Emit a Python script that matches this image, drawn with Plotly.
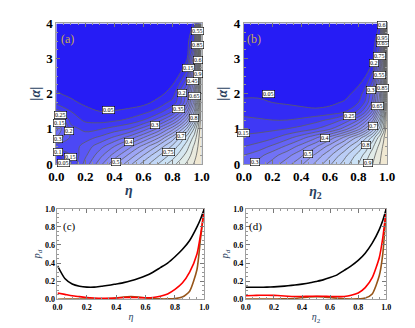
import plotly.graph_objects as go

# grid
eta_grid = [0, 0.1, 0.2, 0.3, 0.4, 0.5, 0.6, 0.7, 0.8, 0.85, 0.9, 0.95, 0.975, 1.0]
alpha_grid = [0, 0.25, 0.5, 0.75, 1.0, 1.25, 1.5, 1.75, 2.0, 2.5, 3.0, 3.5, 4.0]

z_a = [
    [0.04, 0.15, 0.27, 0.38, 0.49, 0.58, 0.67, 0.75, 0.83, 0.87, 0.91, 0.955, 0.978, 1.0],
    [0.08, 0.15, 0.24, 0.33, 0.42, 0.51, 0.6, 0.69, 0.77, 0.82, 0.87, 0.93, 0.965, 1.0],
    [0.17, 0.17, 0.22, 0.28, 0.35, 0.43, 0.52, 0.61, 0.71, 0.77, 0.83, 0.91, 0.95, 1.0],
    [0.3, 0.19, 0.18, 0.21, 0.26, 0.32, 0.4, 0.49, 0.62, 0.7, 0.78, 0.87, 0.93, 1.0],
    [0.37, 0.17, 0.135, 0.145, 0.17, 0.2, 0.27, 0.36, 0.48, 0.56, 0.66, 0.81, 0.9, 1.0],
    [0.28, 0.13, 0.09, 0.08, 0.09, 0.11, 0.15, 0.22, 0.33, 0.41, 0.52, 0.7, 0.84, 1.0],
    [0.17, 0.1, 0.065, 0.05, 0.052, 0.06, 0.08, 0.12, 0.2, 0.28, 0.4, 0.6, 0.78, 1.0],
    [0.085, 0.06, 0.04, 0.03, 0.028, 0.03, 0.035, 0.065, 0.12, 0.18, 0.3, 0.52, 0.72, 1.0],
    [0.055, 0.04, 0.025, 0.018, 0.015, 0.02, 0.025, 0.035, 0.07, 0.17, 0.27, 0.5, 0.7, 1.0],
    [0.03, 0.02, 0.012, 0.008, 0.008, 0.012, 0.012, 0.015, 0.03, 0.055, 0.14, 0.4, 0.65, 1.0],
    [0.015, 0.008, 0.005, 0.004, 0.01, 0.02, 0.012, 0.008, 0.01, 0.02, 0.045, 0.3, 0.6, 1.0],
    [0.01, 0.005, 0.003, 0.003, 0.008, 0.015, 0.01, 0.006, 0.006, 0.01, 0.02, 0.15, 0.5, 1.0],
    [0.008, 0.004, 0.002, 0.002, 0.005, 0.01, 0.008, 0.004, 0.004, 0.006, 0.01, 0.06, 0.4, 1.0],
]

z_b = [
    [0.28, 0.32, 0.37, 0.43, 0.49, 0.56, 0.64, 0.72, 0.8, 0.85, 0.9, 0.95, 0.975, 1.0],
    [0.25, 0.28, 0.33, 0.38, 0.44, 0.51, 0.59, 0.68, 0.77, 0.82, 0.88, 0.94, 0.97, 1.0],
    [0.2, 0.22, 0.26, 0.31, 0.37, 0.44, 0.52, 0.61, 0.71, 0.77, 0.84, 0.92, 0.96, 1.0],
    [0.16, 0.17, 0.19, 0.23, 0.28, 0.34, 0.42, 0.51, 0.62, 0.69, 0.77, 0.88, 0.94, 1.0],
    [0.133, 0.133, 0.138, 0.15, 0.168, 0.197, 0.24, 0.32, 0.43, 0.51, 0.62, 0.77, 0.87, 1.0],
    [0.11, 0.105, 0.1, 0.1, 0.11, 0.13, 0.16, 0.21, 0.3, 0.38, 0.49, 0.68, 0.82, 1.0],
    [0.085, 0.08, 0.075, 0.068, 0.062, 0.058, 0.065, 0.09, 0.16, 0.24, 0.36, 0.57, 0.75, 1.0],
    [0.06, 0.055, 0.05, 0.045, 0.04, 0.036, 0.04, 0.055, 0.1, 0.16, 0.27, 0.49, 0.7, 1.0],
    [0.04, 0.045, 0.044, 0.035, 0.032, 0.035, 0.032, 0.032, 0.07, 0.13, 0.24, 0.46, 0.68, 1.0],
    [0.02, 0.02, 0.02, 0.018, 0.02, 0.025, 0.02, 0.015, 0.025, 0.05, 0.12, 0.37, 0.6, 1.0],
    [0.005, 0.005, 0.005, 0.005, 0.018, 0.03, 0.02, 0.006, 0.005, 0.015, 0.035, 0.25, 0.5, 1.0],
    [0.003, 0.003, 0.003, 0.003, 0.01, 0.018, 0.012, 0.004, 0.003, 0.006, 0.015, 0.12, 0.42, 1.0],
    [0.002, 0.002, 0.002, 0.002, 0.006, 0.01, 0.008, 0.003, 0.002, 0.003, 0.008, 0.05, 0.35, 1.0],
]

# contour labels (text, eta, alpha)
lab_a_text = ["0.05", "0.25", "0.15", "0.2", "0.3", "0.1", "0.15", "0.05", "0.5", "0.4", "0.3",
              "0.35", "0.7", "0.75", "0.8", "0.65", "0.2", "0.45", "0.15", "0.9", "0.6", "0.85", "0.55", "0.55"]
lab_a_eta = [0.36, 0.03, 0.02, 0.09, 0.01, 0.01, 0.1, 0.05, 0.41, 0.5, 0.68,
             0.84, 0.86, 0.77, 0.95, 0.95, 0.865, 0.94, 0.91, 0.975, 0.975, 0.975, 0.975, 0.98]
lab_a_alpha = [1.55, 1.39, 1.17, 0.95, 0.71, 0.35, 0.19, 0.03, 0.06, 0.62, 1.12,
               1.56, 0.8, 0.33, 1.3, 1.93, 2.02, 2.36, 2.72, 2.57, 2.97, 3.38, 3.79, 4.02]

lab_b_text = ["0.05", "0.15", "0.3", "0.4", "0.5", "0.25", "0.7", "0.8", "0.9", "0.65",
              "0.3", "0.85", "0.55", "0.2", "0.75", "0.65", "0.95", "0.6"]
lab_b_eta = [0.17, 0.0, 0.08, 0.57, 0.45, 0.74, 0.9, 0.85, 0.87, 0.93,
             0.89, 0.965, 0.95, 0.91, 0.95, 0.965, 0.965, 0.965]
lab_b_alpha = [2.0, 0.87, 0.05, 0.73, 0.28, 1.36, 1.09, 0.53, 0.03, 1.66,
               2.11, 2.16, 2.54, 2.87, 3.07, 3.45, 3.59, 3.95]

# line cuts
eta_line = [0, 0.05, 0.1, 0.15, 0.2, 0.25, 0.3, 0.35, 0.4, 0.45, 0.5, 0.55, 0.6, 0.65,
            0.7, 0.75, 0.8, 0.85, 0.9, 0.95, 0.975, 1.0]
c_black = [0.37, 0.23, 0.17, 0.145, 0.135, 0.135, 0.145, 0.155, 0.17, 0.185, 0.205, 0.23,
           0.26, 0.3, 0.35, 0.4, 0.47, 0.55, 0.65, 0.8, 0.89, 1.0]
c_red = [0.07, 0.055, 0.04, 0.03, 0.02, 0.015, 0.012, 0.012, 0.015, 0.02, 0.022, 0.02,
         0.018, 0.02, 0.035, 0.06, 0.11, 0.18, 0.3, 0.5, 0.72, 1.0]
c_brown = [0.002, 0.003, 0.003, 0.003, 0.003, 0.003, 0.004, 0.008, 0.015, 0.025, 0.03, 0.025,
           0.015, 0.008, 0.005, 0.005, 0.008, 0.025, 0.09, 0.33, 0.68, 1.0]
d_black = [0.133, 0.133, 0.133, 0.135, 0.138, 0.143, 0.15, 0.158, 0.168, 0.18, 0.197, 0.215,
           0.24, 0.27, 0.32, 0.37, 0.43, 0.51, 0.62, 0.77, 0.87, 1.0]
d_red = [0.04, 0.043, 0.045, 0.046, 0.044, 0.04, 0.035, 0.032, 0.032, 0.034, 0.035, 0.034,
         0.032, 0.03, 0.032, 0.045, 0.07, 0.13, 0.24, 0.46, 0.68, 1.0]
d_brown = [0.003, 0.003, 0.003, 0.003, 0.004, 0.005, 0.005, 0.01, 0.018, 0.026, 0.03, 0.028,
           0.02, 0.012, 0.006, 0.004, 0.005, 0.015, 0.06, 0.26, 0.5, 1.0]

SERIF = "Liberation Serif"
cscale = [[0, "rgb(38,28,245)"], [0.1, "rgb(62,56,245)"], [0.3, "rgb(110,110,245)"],
          [0.5, "rgb(152,158,245)"], [0.65, "rgb(180,198,246)"], [0.8, "rgb(205,228,246)"],
          [0.9, "rgb(226,236,232)"], [1, "rgb(240,232,210)"]]

fig = go.Figure()

for z, xa, ya in [(z_a, "x", "y"), (z_b, "x2", "y2")]:
    fig.add_trace(go.Contour(
        x=eta_grid, y=alpha_grid, z=z, xaxis=xa, yaxis=ya,
        colorscale=cscale, zauto=False, zmin=0, zmax=1, showscale=False,
        contours=dict(start=0.05, end=0.95, size=0.05, coloring="fill", showlines=True),
        line=dict(color="rgb(95,95,95)", width=0.8, smoothing=1.0),
        hoverinfo="skip",
    ))

for (bl, rd, br), xa, ya in [((c_black, c_red, c_brown), "x3", "y3"),
                             ((d_black, d_red, d_brown), "x4", "y4")]:
    for ys, col in [(br, "rgb(150,85,25)"), (rd, "rgb(255,0,0)"), (bl, "black")]:
        fig.add_trace(go.Scatter(
            x=eta_line, y=ys, xaxis=xa, yaxis=ya, mode="lines",
            line=dict(color=col, width=1.6, shape="spline", smoothing=0.6),
            showlegend=False, hoverinfo="skip",
        ))

annotations = []
for texts, es, als, xr, yr in [(lab_a_text, lab_a_eta, lab_a_alpha, "x", "y"),
                               (lab_b_text, lab_b_eta, lab_b_alpha, "x2", "y2")]:
    for t, e, a in zip(texts, es, als):
        annotations.append(dict(
            x=e, y=a, xref=xr, yref=yr, text=t, showarrow=False,
            font=dict(family=SERIF, size=6, color="black"),
            bgcolor="white", bordercolor="black", borderwidth=0.6, borderpad=0.5,
        ))

annotations += [
    dict(x=0.08, y=3.56, xref="x", yref="y", text="(a)", showarrow=False,
         font=dict(family=SERIF, size=12, color="rgb(200,170,80)")),
    dict(x=0.07, y=3.56, xref="x2", yref="y2", text="(b)", showarrow=False,
         font=dict(family=SERIF, size=12, color="rgb(200,170,80)")),
    dict(x=0.08, y=0.8, xref="x3", yref="y3", text="(c)", showarrow=False,
         font=dict(family=SERIF, size=11, color="black")),
    dict(x=0.07, y=0.8, xref="x4", yref="y4", text="(d)", showarrow=False,
         font=dict(family=SERIF, size=11, color="black")),
]

top_tick = dict(family=SERIF, size=13, color="black", weight="bold")
bot_tick = dict(family=SERIF, size=8, color="black", weight="bold")


def frame(**kw):
    base = dict(showgrid=False, zeroline=False, showline=True, linecolor="rgb(160,160,160)",
                linewidth=1, mirror="allticks", ticks="inside", ticklen=4,
                tickcolor="rgb(120,120,120)",
                minor=dict(ticks="inside", ticklen=2, tickcolor="rgb(150,150,150)"))
    base.update(kw)
    return base


fig.update_layout(
    width=415, height=328, margin=dict(l=0, r=0, t=0, b=0),
    paper_bgcolor="white", plot_bgcolor="white", showlegend=False,
    annotations=annotations,
    xaxis=frame(domain=[0.101, 0.465], range=[0, 1], anchor="y", dtick=0.2, tickformat=".1f",
                tickfont=top_tick, minor_dtick=0.05,
                title=dict(text="<b><i>η</i></b>", font=dict(family=SERIF, size=14), standoff=2)),
    yaxis=frame(domain=[0.524, 0.973], range=[0, 4], anchor="x", dtick=1, tickfont=top_tick,
                minor_dtick=0.25,
                title=dict(text="<b>|<i>α</i>|</b>", font=dict(family=SERIF, size=14), standoff=2)),
    xaxis2=frame(domain=[0.571, 0.930], range=[0, 1], anchor="y2", dtick=0.2, tickformat=".1f",
                 tickfont=top_tick, minor_dtick=0.05,
                 title=dict(text="<b><i>η</i><sub>2</sub></b>", font=dict(family=SERIF, size=14),
                            standoff=2)),
    yaxis2=frame(domain=[0.524, 0.973], range=[0, 4], anchor="x2", dtick=1, tickfont=top_tick,
                 minor_dtick=0.25,
                 title=dict(text="<b>|<i>α</i>|</b>", font=dict(family=SERIF, size=14), standoff=2)),
    xaxis3=frame(domain=[0.104, 0.472], range=[0, 1], anchor="y3", dtick=0.2, tickformat=".1f",
                 tickfont=bot_tick, minor_dtick=0.05,
                 title=dict(text="<i>η</i>", font=dict(family=SERIF, size=10), standoff=2)),
    yaxis3=frame(domain=[0.0915, 0.381], range=[0, 1], anchor="x3", dtick=0.2, tickformat=".1f",
                 tickfont=bot_tick, minor_dtick=0.05,
                 title=dict(text="<i>p</i><sub><i>d</i></sub>", font=dict(family=SERIF, size=10),
                            standoff=2)),
    xaxis4=frame(domain=[0.576, 0.928], range=[0, 1], anchor="y4", dtick=0.2, tickformat=".1f",
                 tickfont=bot_tick, minor_dtick=0.05,
                 title=dict(text="<i>η</i><sub>2</sub>", font=dict(family=SERIF, size=10), standoff=2)),
    yaxis4=frame(domain=[0.0915, 0.381], range=[0, 1], anchor="x4", dtick=0.2, tickformat=".1f",
                 tickfont=bot_tick, minor_dtick=0.05,
                 title=dict(text="<i>p</i><sub><i>d</i></sub>", font=dict(family=SERIF, size=10),
                            standoff=2)),
)

fig.write_html("out.html")
